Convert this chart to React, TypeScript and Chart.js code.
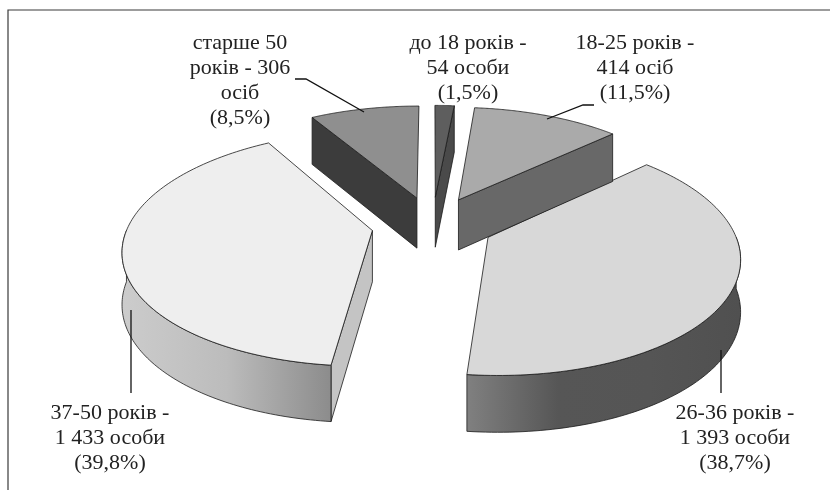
import React, { useEffect, useRef } from "react";
import { Chart, registerables } from "chart.js";

Chart.register(...registerables);

const categories = ["до 18 років", "18-25 років", "26-36 років", "37-50 років", "старше 50 років"];
const people = [54, 414, 1393, 1433, 306];
const labelLines = [
  ["до 18 років -", "54 особи", "(1,5%)"],
  ["18-25 років -", "414 осіб", "(11,5%)"],
  ["26-36 років -", "1 393 особи", "(38,7%)"],
  ["37-50 років -", "1 433 особи", "(39,8%)"],
  ["старше 50", "років - 306", "осіб", "(8,5%)"],
];
const labelAnchors = [
  [468, 43],
  [635, 43],
  [735, 413],
  [110, 413],
  [240, 43],
];
const leaders = [
  [],
  [[594, 105], [583, 105], [547, 119]],
  [[721, 350], [721, 393]],
  [[131, 310], [131, 393]],
  [[295, 79], [306, 79], [364, 112]],
];
const topColors = ["#5e5e5e", "#aaaaaa", "#d8d8d8", "#eeeeee", "#8f8f8f"];
const edgeColors = ["#4a4a4a", "#686868", "#555555", "#c4c4c4", "#3c3c3c"];
const rimGradients = [
  ["#4a4a4a", "#4a4a4a"],
  ["#686868", "#686868"],
  ["#808080", "#565656", "#555555", "#505050"],
  ["#cccccc", "#bcbcbc", "#8c8c8c"],
  ["#3c3c3c", "#3c3c3c"],
];
const paintOrder = [3, 2, 4, 0, 1];

const CX = 432.5;
const CY = 224.5;
const RADIUS = 244;
const TILT = 113.2;
const PERSPECTIVE = 0.15;
const EXPLODE = 0.25;

function scaleAt(v: number) {
  return 1 / (1 - PERSPECTIVE * v);
}
function project(u: number, v: number, drop = false): [number, number] {
  const s = scaleAt(v);
  const x = CX + u * RADIUS * s;
  const y = CY + v * TILT * s + (drop ? 22 + 29 * s : 0);
  return [x, y];
}

function tracePath(ctx: CanvasRenderingContext2D, pts: [number, number][]) {
  ctx.beginPath();
  pts.forEach((p, i) => (i ? ctx.lineTo(p[0], p[1]) : ctx.moveTo(p[0], p[1])));
  ctx.closePath();
}

const pie3d = {
  id: "pie3d",
  beforeDatasetsDraw(chart: any) {
    const ctx: CanvasRenderingContext2D = chart.ctx;
    const arcs = chart.getDatasetMeta(0).data;
    ctx.save();
    ctx.lineJoin = "round";
    ctx.lineWidth = 0.8;
    ctx.strokeStyle = "#1a1a1a";
    for (const i of paintOrder) {
      const { startAngle: a1, endAngle: a2 } = arcs[i];
      const mid = (a1 + a2) / 2;
      const ox = EXPLODE * Math.cos(mid);
      const oy = EXPLODE * Math.sin(mid);
      const at = (a: number, drop = false) => project(ox + Math.cos(a), oy + Math.sin(a), drop);
      const apexTop = project(ox, oy);
      const apexBottom = project(ox, oy, true);

      // radial walls facing the viewer
      if (-Math.cos(a1) > 0.001) {
        tracePath(ctx, [apexTop, at(a1), at(a1, true), apexBottom]);
        ctx.fillStyle = edgeColors[i];
        ctx.fill();
        ctx.stroke();
      }
      if (Math.cos(a2) > 0.001) {
        tracePath(ctx, [apexTop, at(a2), at(a2, true), apexBottom]);
        ctx.fillStyle = edgeColors[i];
        ctx.fill();
        ctx.stroke();
      }

      // curved outer wall, front half only
      const lo = Math.max(a1, 0);
      const to = Math.min(a2, Math.PI);
      if (to > lo) {
        const upper: [number, number][] = [];
        const lower: [number, number][] = [];
        for (let k = 0; k <= 80; k++) {
          const a = lo + ((to - lo) * k) / 80;
          upper.push(at(a));
          lower.push(at(a, true));
        }
        const xs = upper.map((p) => p[0]);
        const minX = Math.min(...xs);
        const maxX = Math.max(...xs);
        const g = ctx.createLinearGradient(minX, 0, maxX, 0);
        const stops = rimGradients[i];
        stops.forEach((c, n) => g.addColorStop(n / (stops.length - 1), c));
        tracePath(ctx, [...upper, ...lower.reverse()]);
        ctx.fillStyle = g;
        ctx.fill();
        ctx.stroke();
      }

      // top face
      const face: [number, number][] = [apexTop];
      for (let k = 0; k <= 120; k++) face.push(at(a1 + ((a2 - a1) * k) / 120));
      tracePath(ctx, face);
      ctx.fillStyle = topColors[i];
      ctx.fill();
      ctx.stroke();
    }
    ctx.restore();
    return false;
  },
  afterDraw(chart: any) {
    const ctx: CanvasRenderingContext2D = chart.ctx;
    ctx.save();
    ctx.strokeStyle = "#3a3a3a";
    ctx.lineWidth = 1.2;
    ctx.beginPath();
    ctx.moveTo(830, 10);
    ctx.lineTo(8, 10);
    ctx.lineTo(8, 490);
    ctx.stroke();

    ctx.strokeStyle = "#111111";
    ctx.lineWidth = 1.3;
    leaders.forEach((line) => {
      if (!line.length) return;
      ctx.beginPath();
      line.forEach((p, i) => (i ? ctx.lineTo(p[0], p[1]) : ctx.moveTo(p[0], p[1])));
      ctx.stroke();
    });

    ctx.fillStyle = "#222222";
    ctx.font = '22px "Liberation Serif"';
    ctx.textAlign = "center";
    ctx.textBaseline = "middle";
    labelLines.forEach((lines, i) => {
      lines.forEach((text, n) => ctx.fillText(text, labelAnchors[i][0], labelAnchors[i][1] + n * 25));
    });
    ctx.restore();
  },
};

export default function App() {
  const ref = useRef<HTMLCanvasElement>(null);
  useEffect(() => {
    document.body.style.margin = "0";
    const chart = new Chart(ref.current!, {
      type: "pie",
      data: {
        labels: categories,
        datasets: [{ data: people, backgroundColor: topColors }],
      },
      options: {
        animation: false,
        responsive: false,
        plugins: { legend: { display: false }, tooltip: { enabled: false } },
      },
      plugins: [pie3d],
    });
    return () => chart.destroy();
  }, []);
  return (
    <div style={{ position: "fixed", left: 0, top: 0, width: 830, height: 490, background: "#fff" }}>
      <canvas ref={ref} width={830} height={490} style={{ display: "block" }} />
    </div>
  );
}
